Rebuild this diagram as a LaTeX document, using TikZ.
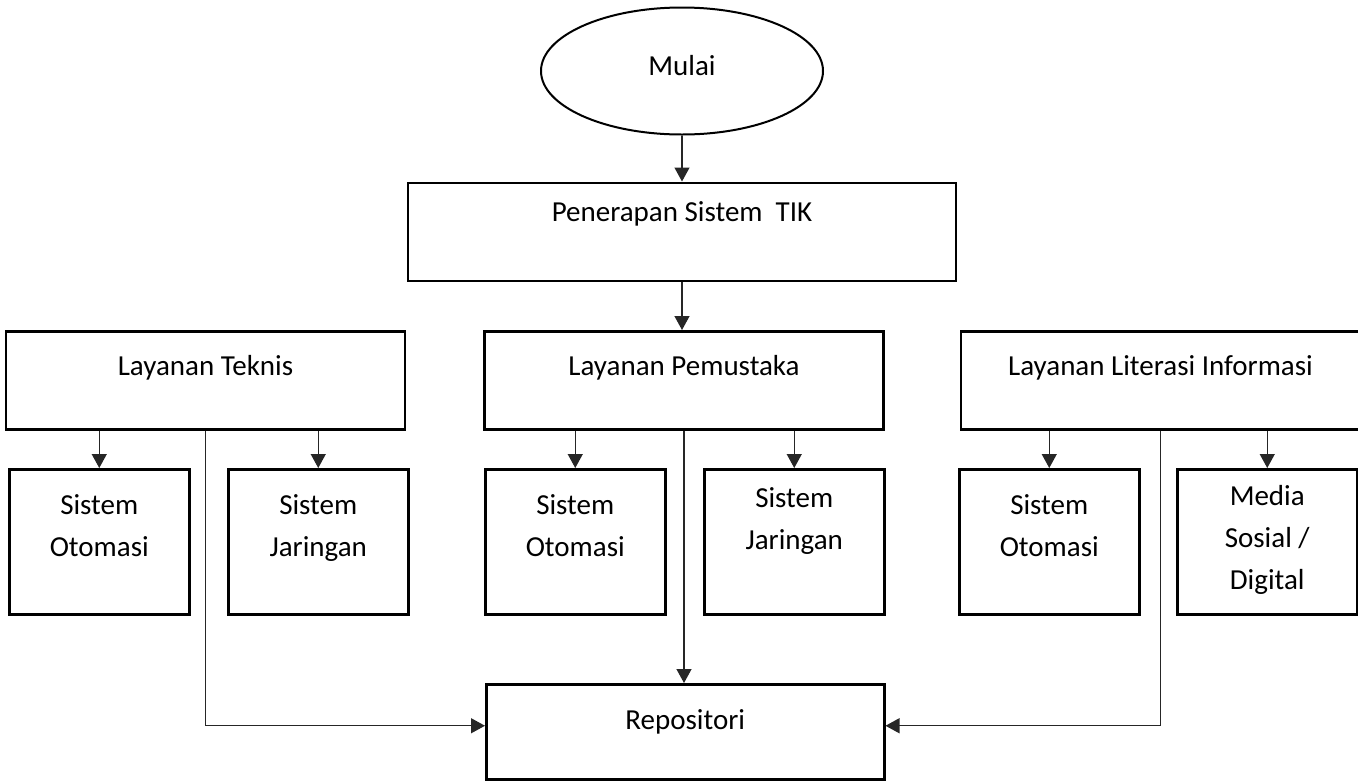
\documentclass[tikz,border=0pt]{standalone}
\usepackage{fontspec}
\setmainfont{Carlito}
\usetikzlibrary{positioning,shapes.geometric,arrows.meta}
\tikzset{
  box/.style={draw,line width=2.5pt,rectangle,inner sep=0pt,align=center,font=\fontsize{29}{42}\selectfont},
  start/.style={draw,ellipse,line width=2pt,inner sep=0pt,minimum width=282pt,minimum height=127pt,font=\fontsize{29}{42}\selectfont,text height=20pt,text depth=12pt},
  big/.style={box,minimum width=399pt,text height=44pt,text depth=54pt},
  small/.style={box,minimum width=180pt,text height=87pt,text depth=58pt},
  conn/.style={line width=1.3pt,black!85,-{Triangle[width=15pt,length=14pt]}}
}

\begin{document}
\begin{tikzpicture}[x=1pt,y=-1pt]
  \useasboundingbox (0,0) rectangle (1358,780);
  \node[start] (mulai) at (682,71) {Mulai};
  \node[box,minimum width=548pt,text height=39pt,text depth=59pt,below=46pt of mulai] (tik) {Penerapan Sistem\ \ TIK};
  \node[big,below=48pt of tik,xshift=2pt] (pemustaka) {Layanan Pemustaka};
  \node[big,left=77pt of pemustaka] (teknis) {Layanan Teknis};
  \node[big,right=75pt of pemustaka] (literasi) {Layanan Literasi Informasi};
  \node[small,anchor=north west] (oto1) at (8,468) {Sistem\\Otomasi};
  \node[small,anchor=north west] (jar1) at (227,468) {Sistem\\Jaringan};
  \node[small,anchor=north west] (oto2) at (484,468) {Sistem\\Otomasi};
  \node[small,anchor=north west,text height=80pt,text depth=65pt] (jar2) at (703,468) {Sistem\\Jaringan};
  \node[small,anchor=north west] (oto3) at (958,468) {Sistem\\Otomasi};
  \node[small,anchor=north west,text height=120pt,text depth=25pt] (media) at (1176,468) {Media\\Sosial /\\Digital};
  \node[box,minimum width=398pt,text height=45pt,text depth=50pt,anchor=north west] (repo) at (485,683) {Repositori};
  \draw[conn] (mulai) -- (tik);
  \draw[conn] (tik.south) -- (tik.south |- pemustaka.north);
  \foreach \a/\b in {teknis/oto1,teknis/jar1,pemustaka/oto2,pemustaka/jar2,literasi/oto3,literasi/media}
    \draw[conn] (\b.north |- \a.south) -- (\b.north);
  \draw[conn] (pemustaka.south) -- (pemustaka.south |- repo.north);
  \draw[conn] (teknis.south) |- ([yshift=6pt]repo.west);
  \draw[conn] (literasi.south) |- ([yshift=6pt]repo.east);
\end{tikzpicture}
\end{document}
